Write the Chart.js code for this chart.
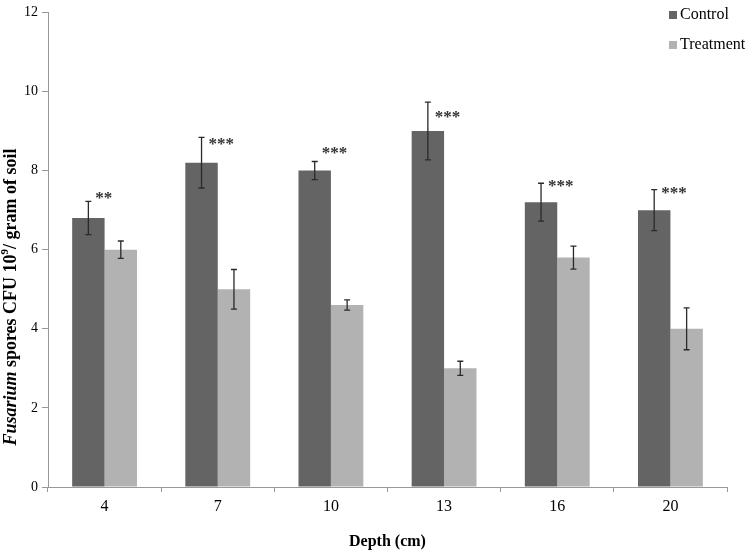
<!DOCTYPE html>
<html>
<head>
<meta charset="utf-8">
<script src="https://cdn.jsdelivr.net/npm/chart.js@4"></script>
<style>
  html, body { margin: 0; padding: 0; background: #ffffff; }
  #wrap { width: 749px; height: 553px; position: relative; }
</style>
</head>
<body>
<div id="wrap"><canvas id="c"></canvas></div>
<script>
const depths = ['4', '7', '10', '13', '16', '20'];
const controlValues = [6.8, 8.2, 8.0, 9.0, 7.2, 7.0];
const treatmentValues = [6.0, 5.0, 4.6, 3.0, 5.8, 4.0];
const controlErrors = [0.42, 0.64, 0.23, 0.73, 0.48, 0.52];
const treatmentErrors = [0.22, 0.50, 0.13, 0.18, 0.29, 0.53];
const significance = ['**', '***', '***', '***', '***', '***'];
const significanceLevel = [7.33, 8.7, 8.48, 9.4, 7.65, 7.48];
const yTicks = [0, 2, 4, 6, 8, 10, 12];

const SERIF = '"Liberation Serif", "Times New Roman", serif';

const errorBarPlugin = {
  id: 'errorBars',
  afterDatasetsDraw(chart) {
    const ctx = chart.ctx;
    const y = chart.scales.y;
    const errs = [controlErrors, treatmentErrors];
    ctx.save();
    ctx.strokeStyle = '#2a2a2a';
    ctx.lineWidth = 1.3;
    chart.data.datasets.forEach((ds, di) => {
      const meta = chart.getDatasetMeta(di);
      meta.data.forEach((bar, i) => {
        const v = ds.data[i], e = errs[di][i];
        const top = y.getPixelForValue(v + e);
        const bot = y.getPixelForValue(v - e);
        const x = bar.x;
        ctx.beginPath();
        ctx.moveTo(x, top); ctx.lineTo(x, bot);
        ctx.moveTo(x - 3, top); ctx.lineTo(x + 3, top);
        ctx.moveTo(x - 3, bot); ctx.lineTo(x + 3, bot);
        ctx.stroke();
      });
    });
    const meta0 = chart.getDatasetMeta(0);
    ctx.fillStyle = '#333333';
    ctx.font = 'bold 17px ' + SERIF;
    ctx.textAlign = 'left';
    ctx.textBaseline = 'middle';
    meta0.data.forEach((bar, i) => {
      ctx.fillText(significance[i], bar.x + 7, y.getPixelForValue(significanceLevel[i]) + 2);
    });
    ctx.restore();
  }
};

const yTitlePlugin = {
  id: 'yTitle',
  afterDraw(chart) {
    const ctx = chart.ctx;
    ctx.save();
    ctx.translate(11, 297);
    ctx.rotate(-Math.PI / 2);
    ctx.fillStyle = '#000000';
    ctx.textBaseline = 'middle';
    const p1 = 'Fusarium';
    const p2 = ' spores CFU 10';
    const p3 = '9';
    const p4 = '/ gram of soil';
    const f1 = 'italic bold 18px ' + SERIF;
    const f2 = 'bold 18px ' + SERIF;
    const f3 = 'bold 11px ' + SERIF;
    ctx.font = f1; const w1 = ctx.measureText(p1).width;
    ctx.font = f2; const w2 = ctx.measureText(p2).width;
    ctx.font = f3; const w3 = ctx.measureText(p3).width;
    ctx.font = f2; const w4 = ctx.measureText(p4).width;
    let x = -(w1 + w2 + w3 + w4) / 2;
    ctx.textAlign = 'left';
    ctx.font = f1; ctx.fillText(p1, x, 0); x += w1;
    ctx.font = f2; ctx.fillText(p2, x, 0); x += w2;
    ctx.font = f3; ctx.fillText(p3, x, -6); x += w3;
    ctx.font = f2; ctx.fillText(p4, x, 0);
    ctx.restore();
  }
};

const legendPlugin = {
  id: 'customLegend',
  afterDraw(chart) {
    const ctx = chart.ctx;
    ctx.save();
    ctx.font = '16px ' + SERIF;
    ctx.textBaseline = 'middle';
    ctx.textAlign = 'left';
    chart.data.datasets.forEach((ds, i) => {
      const cy = 15 + i * 30;
      ctx.fillStyle = ds.backgroundColor;
      ctx.fillRect(669, cy - 4, 8, 8);
      ctx.fillStyle = '#000000';
      ctx.fillText(ds.label, 680, cy);
    });
    ctx.restore();
  }
};

new Chart(document.getElementById('c'), {
  type: 'bar',
  data: {
    labels: depths,
    datasets: [
      { label: 'Control', data: controlValues, backgroundColor: '#646464', borderWidth: 0 },
      { label: 'Treatment', data: treatmentValues, backgroundColor: '#b2b2b2', borderWidth: 0 }
    ]
  },
  options: {
    responsive: true,
    maintainAspectRatio: false,
    animation: false,
    layout: { padding: { top: 6, right: 22, left: 0, bottom: 0 } },
    plugins: {
      legend: { display: false },
      tooltip: { enabled: false }
    },
    datasets: { bar: { categoryPercentage: 0.573, barPercentage: 1.0 } },
    scales: {
      x: {
        grid: { display: true, drawOnChartArea: false, drawTicks: true, tickLength: 5, offset: true, color: '#999999' },
        border: { display: true, color: '#999999' },
        ticks: { color: '#000000', font: { family: SERIF, size: 16 }, padding: 5 },
        title: { display: true, text: 'Depth (cm)', color: '#000000', font: { family: SERIF, size: 16, weight: 'bold' }, padding: { top: 0, bottom: 2 } },
        afterFit(scale) { scale.height = 66; }
      },
      y: {
        min: 0, max: 12,
        afterBuildTicks(scale) { scale.ticks = yTicks.map(v => ({ value: v })); },
        grid: { display: true, drawOnChartArea: false, drawTicks: true, tickLength: 6, color: '#999999' },
        border: { display: true, color: '#999999' },
        ticks: { color: '#000000', font: { family: SERIF, size: 14 }, padding: 4 },
        afterFit(scale) { scale.width = 48; }
      }
    }
  },
  plugins: [errorBarPlugin, yTitlePlugin, legendPlugin]
});
</script>
</body>
</html>
